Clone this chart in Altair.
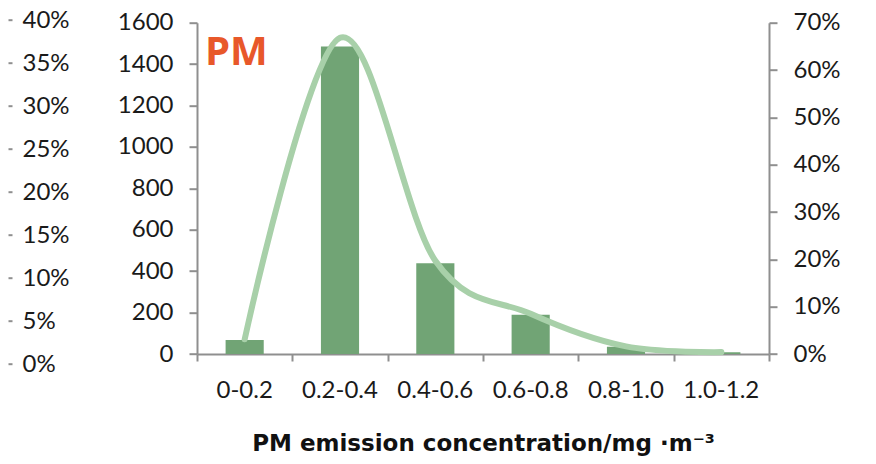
import altair as alt
import pandas as pd

# ---- data ----
categories = ["0-0.2", "0.2-0.4", "0.4-0.6", "0.6-0.8", "0.8-1.0", "1.0-1.2"]
counts = [68, 1485, 438, 189, 35, 8]
shares = [0.031, 0.668, 0.197, 0.085, 0.016, 0.004]
bin_edges = [0.0, 0.2, 0.4, 0.6, 0.8, 1.0, 1.2]
count_ticks = [0, 200, 400, 600, 800, 1000, 1200, 1400, 1600]
share_ticks = [0.0, 0.1, 0.2, 0.3, 0.4, 0.5, 0.6, 0.7]
side_ticks = [0.0, 0.05, 0.10, 0.15, 0.20, 0.25, 0.30, 0.35, 0.40]

x_title = "PM emission concentration/mg \u00b7m\u207b\u00b3"
panel_label = "PM"

# ---- styles ----
FONT = "Lato"
LABEL_SIZE = 24
LABEL_COLOR = "#1a1a1a"
AXIS_COLOR = "#8f8f8f"
BAR_COLOR = "#71a475"
LINE_COLOR = "#a8d0a9"

W, H = 572, 331.3

df = pd.DataFrame({"cat": categories, "count": counts, "share": shares})
edges_df = pd.DataFrame({"edge": bin_edges})
side_df = pd.DataFrame({"side": side_ticks})


def band_scale():
    return alt.Scale(type="band", domain=categories, paddingInner=0.6, paddingOuter=0.3)


common_axis = dict(
    labelFont=FONT,
    labelFontSize=LABEL_SIZE,
    labelColor=LABEL_COLOR,
    domainColor=AXIS_COLOR,
    domainWidth=2,
    tickColor=AXIS_COLOR,
    tickWidth=2,
    grid=False,
)

bars = alt.Chart(df).mark_bar(color=BAR_COLOR).encode(
    x=alt.X(
        "cat:N",
        sort=categories,
        scale=band_scale(),
        axis=alt.Axis(
            orient="bottom",
            domain=False,
            ticks=False,
            labelAngle=0,
            labelPadding=43,
            labelBaseline="alphabetic",
            labelFont=FONT,
            labelFontSize=LABEL_SIZE,
            labelColor=LABEL_COLOR,
            title=x_title,
            titleFont="DejaVu Sans",
            titleFontSize=23,
            titleFontWeight="bold",
            titleColor="#111111",
            titleBaseline="alphabetic",
            titleY=96,
            grid=False,
        ),
    ),
    y=alt.Y(
        "count:Q",
        scale=alt.Scale(domain=[0, 1600], nice=False),
        axis=alt.Axis(
            orient="left",
            values=count_ticks,
            format="d",
            tickSize=8,
            labelPadding=16,
            title=None,
            **common_axis,
        ),
    ),
)

line = alt.Chart(df).mark_line(
    color=LINE_COLOR, strokeWidth=6, interpolate="cardinal", strokeCap="round"
).encode(
    x=alt.X("cat:N", sort=categories, scale=band_scale(), axis=None),
    y=alt.Y(
        "share:Q",
        scale=alt.Scale(domain=[0, 0.7], nice=False),
        axis=alt.Axis(
            orient="right",
            values=share_ticks,
            format=".0%",
            tickSize=8,
            labelPadding=16,
            title=None,
            **common_axis,
        ),
    ),
)

edges_layer = alt.Chart(edges_df).mark_point(opacity=0).encode(
    x=alt.X(
        "edge:Q",
        scale=alt.Scale(domain=[0, 1.2], nice=False, zero=False),
        axis=alt.Axis(
            orient="bottom",
            values=bin_edges,
            labels=False,
            tickSize=7,
            title=None,
            domainColor=AXIS_COLOR,
            domainWidth=2,
            tickColor=AXIS_COLOR,
            tickWidth=2,
            grid=False,
        ),
    )
)

side_layer = alt.Chart(side_df).mark_point(opacity=0).encode(
    y=alt.Y(
        "side:Q",
        scale=alt.Scale(domain=[0, 0.4], range=[341.3, -2.7], nice=False),
        axis=alt.Axis(
            orient="right",
            offset=-761,
            values=side_ticks,
            format=".0%",
            domain=False,
            tickSize=4,
            labelPadding=10,
            title=None,
            labelFont=FONT,
            labelFontSize=LABEL_SIZE,
            labelColor=LABEL_COLOR,
            tickColor=AXIS_COLOR,
            tickWidth=2,
            grid=False,
        ),
    )
)

chart = (
    alt.layer(bars, line, edges_layer, side_layer)
    .resolve_scale(x="independent", y="independent")
    .properties(
        width=W,
        height=H,
        autosize=alt.AutoSizeParams(type="none"),
        padding={"left": 189, "top": 14.7, "right": 99, "bottom": 102},
        title=alt.TitleParams(
            text=panel_label,
            anchor="start",
            frame="group",
            orient="top",
            offset=0,
            dx=8,
            dy=96.7,
            baseline="alphabetic",
            font="Open Sans",
            fontSize=40,
            fontWeight="bold",
            color="#e8582a",
        ),
        background="white",
    )
    .configure_view(stroke=None)
)

chart.save("out.html", embed_options={"renderer": "svg", "actions": False})
